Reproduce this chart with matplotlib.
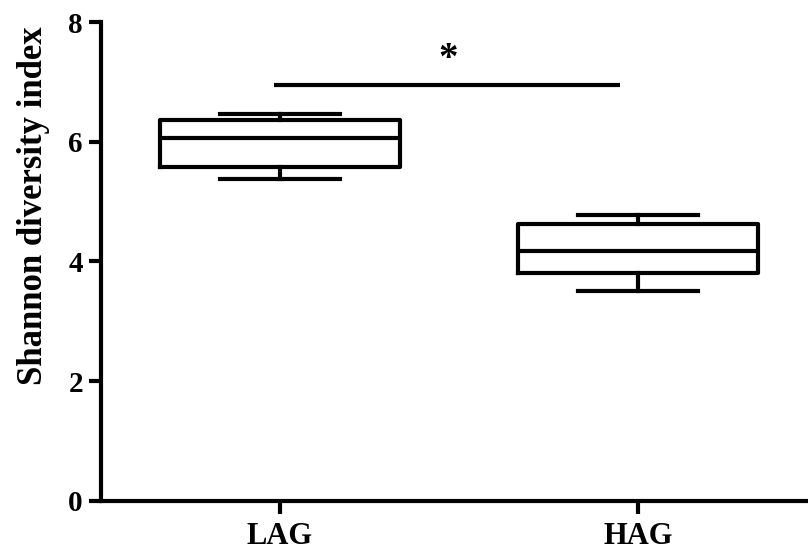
import matplotlib
matplotlib.use("Agg")
import matplotlib.pyplot as plt

# Shannon diversity per group (box plot summary)
groups = ["LAG", "HAG"]
whisker_low = [5.38, 3.5]
q1 = [5.58, 3.8]
median = [6.07, 4.18]
q3 = [6.37, 4.63]
whisker_high = [6.47, 4.77]

sig_label = "*"
sig_level = 6.95

plt.rcParams["font.family"] = ["Liberation Serif", "DejaVu Serif"]
plt.rcParams["font.weight"] = "bold"

fig = plt.figure(figsize=(8.08, 5.54), dpi=100)
ax = fig.add_axes([0.125, 0.096, 0.875, 0.864])

stats = []
for i, g in enumerate(groups):
    stats.append({
        "label": g,
        "whislo": whisker_low[i],
        "q1": q1[i],
        "med": median[i],
        "q3": q3[i],
        "whishi": whisker_high[i],
    })

lw = 3.0
ax.bxp(stats, positions=[1, 2], widths=0.67, showfliers=False,
       boxprops=dict(color="black", linewidth=lw),
       medianprops=dict(color="black", linewidth=lw),
       whiskerprops=dict(color="black", linewidth=lw),
       capprops=dict(color="black", linewidth=lw),
       capwidths=0.335)

# significance bar
ax.plot([0.983, 1.95], [sig_level, sig_level], color="black", linewidth=lw,
        solid_capstyle="butt")
ax.text(1.47, sig_level + 0.12, sig_label, ha="center", va="bottom",
        fontsize=28, fontweight="bold")

ax.set_xlim(0.5, 2.475)
ax.set_ylim(0, 8)
ax.set_yticks([0, 2, 4, 6, 8])
ax.set_xticks([1, 2])
ax.set_xticklabels(groups)

# y label sits a bit above the axis centre
fig.text(0.042, 0.628, "Shannon diversity index", rotation=90,
         ha="center", va="center", fontsize=25, fontweight="bold")

for side in ["top", "right"]:
    ax.spines[side].set_visible(False)
for side in ["left", "bottom"]:
    ax.spines[side].set_linewidth(lw)
ax.tick_params(axis="y", width=lw, length=9, labelsize=21, pad=4)
ax.tick_params(axis="x", width=lw, length=9, labelsize=22, pad=6)
for lab in ax.get_xticklabels() + ax.get_yticklabels():
    lab.set_fontweight("bold")

fig.savefig("out.png", dpi=100)
